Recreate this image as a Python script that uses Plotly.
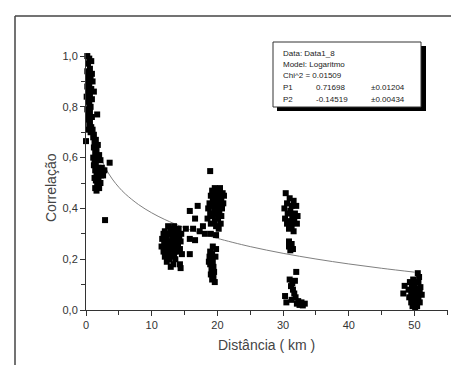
import plotly.graph_objects as go
import math

# ---------------- data ----------------
xA = [0.2, 0.5, 0.8, 0.3, 0.6, 0.2, 0.9, 0.4, 0.7, 0.3, 1.0, 0.5, 0.2, 0.8, 0.4, 1.2, 0.6, 0.1,
      0.9, 0.3, 0.5, 0.7, 0.2, 0.6, 0.4, 0.9, 0.3, 0.6, 0.5, 0.8, 0.4, 0.7, 1.0, 1.2, 1.7, 0.0,
      1.1, 1.5, 1.3, 1.8, 1.2, 1.6, 1.4, 2.0, 1.1, 1.7, 1.3, 2.2, 1.5, 3.6, 1.2, 1.9, 2.4, 1.4,
      2.1, 2.8, 1.6, 2.3, 1.3, 1.9, 2.6, 1.5, 2.2, 1.7, 1.4, 2.0, 1.6, 2.9]
yA = [1.00, 0.99, 0.98, 0.97, 0.95, 0.94, 0.93, 0.92, 0.91, 0.90, 0.90, 0.89, 0.88, 0.87, 0.86, 0.86,
      0.85, 0.84, 0.83, 0.82, 0.81, 0.80, 0.79, 0.78, 0.77, 0.76, 0.75, 0.74, 0.73, 0.72, 0.71, 0.70,
      0.71, 0.69, 0.77, 0.665,
      0.68, 0.67, 0.66, 0.65, 0.64, 0.63, 0.62, 0.61, 0.60, 0.60, 0.59, 0.59, 0.58, 0.58, 0.57, 0.56,
      0.56, 0.55, 0.55, 0.55, 0.54, 0.53, 0.52, 0.52, 0.53, 0.51, 0.50, 0.49, 0.48, 0.48, 0.47, 0.354]

xB = [12.5, 13.4, 14.1, 12.0, 13.0, 13.8, 14.5, 11.8, 12.7, 13.5, 14.2, 12.2, 11.6, 13.1, 13.9,
      12.6, 14.4, 11.9, 13.4, 12.3, 14.0, 11.5, 12.9, 13.7, 12.1, 14.3, 13.2, 11.8, 12.6, 13.9,
      12.4, 13.4, 14.6, 12.0, 13.0, 12.7, 13.6, 12.3, 13.3, 14.3, 12.9, 15.8, 14.4,
      12.9, 13.7, 12.2, 13.1, 14.0, 12.5, 13.5]
yB = [0.33, 0.33, 0.32, 0.31, 0.31, 0.31, 0.30, 0.30, 0.30, 0.29, 0.29, 0.29, 0.28, 0.28, 0.28,
      0.27, 0.27, 0.27, 0.26, 0.26, 0.26, 0.25, 0.25, 0.25, 0.24, 0.24, 0.24, 0.23, 0.23, 0.23,
      0.22, 0.22, 0.22, 0.21, 0.21, 0.20, 0.20, 0.19, 0.18, 0.18, 0.17, 0.22, 0.165,
      0.32, 0.27, 0.28, 0.26, 0.24, 0.21, 0.23]

xC = [19.6, 20.4, 19.2, 20.0, 20.8, 19.5, 20.3, 19.0, 21.0, 19.8, 20.6, 19.3, 20.1, 20.9, 18.8,
      19.7, 20.4, 19.1, 20.0, 20.7, 18.6, 19.5, 20.3, 18.9, 19.9, 20.6, 19.3, 18.5, 20.1, 19.6,
      20.5, 19.0, 19.8, 20.2, 18.9,
      15.8, 17.0, 16.6, 15.2, 16.3, 15.8, 16.6, 17.3, 17.8, 18.1, 19.0, 19.8,
      20.0, 19.4, 20.5, 19.8]
yC = [0.48, 0.48, 0.47, 0.47, 0.46, 0.46, 0.45, 0.45, 0.45, 0.44, 0.44, 0.43, 0.43, 0.42, 0.42,
      0.42, 0.41, 0.41, 0.40, 0.40, 0.40, 0.39, 0.39, 0.38, 0.38, 0.37, 0.37, 0.36, 0.36, 0.35,
      0.34, 0.34, 0.33, 0.32, 0.547,
      0.39, 0.41, 0.36, 0.32, 0.32, 0.28, 0.275, 0.31, 0.33, 0.30, 0.30, 0.295,
      0.45, 0.44, 0.43, 0.41]

xD = [19.3, 19.8, 18.9, 19.2, 18.8, 19.7, 19.0, 18.7, 19.3, 18.9, 19.4, 19.1, 19.5, 19.0, 19.4, 19.2, 19.6]
yD = [0.25, 0.24, 0.23, 0.22, 0.21, 0.21, 0.20, 0.19, 0.19, 0.18, 0.17, 0.16, 0.15, 0.14, 0.13, 0.12, 0.11]

xE = [30.4, 31.0, 31.6, 30.6, 31.3, 32.0, 30.2, 31.1, 31.8, 30.7, 31.4, 32.2, 30.3, 31.0, 31.7,
      30.6, 32.1, 31.3, 30.9, 31.6, 30.9, 31.3, 30.9, 31.5, 31.1]
yE = [0.46, 0.44, 0.43, 0.42, 0.41, 0.41, 0.40, 0.39, 0.38, 0.38, 0.37, 0.37, 0.36, 0.35, 0.35,
      0.34, 0.34, 0.33, 0.32, 0.31, 0.27, 0.26, 0.25, 0.24, 0.235]

xF = [32.0, 31.0, 31.8, 31.4, 31.2, 31.5, 31.7, 30.3, 31.9, 30.5, 32.3, 32.8, 33.3, 32.5, 33.0, 31.3, 32.1]
yF = [0.15, 0.12, 0.115, 0.105, 0.094, 0.08, 0.065, 0.055, 0.05, 0.03, 0.035, 0.03, 0.025, 0.02, 0.018, 0.04, 0.025]

xG = [50.5, 50.7, 49.8, 50.6, 49.3, 48.5, 50.0, 50.9, 49.6, 50.3, 49.1, 50.8, 49.9, 48.3, 50.4,
      49.5, 51.1, 50.1, 49.2, 50.6, 49.8, 50.3, 49.5, 50.8, 50.0, 49.7, 50.4, 50.1]
yG = [0.145, 0.13, 0.12, 0.11, 0.11, 0.095, 0.10, 0.09, 0.09, 0.085, 0.08, 0.075, 0.07, 0.065, 0.065,
      0.06, 0.06, 0.055, 0.05, 0.045, 0.04, 0.035, 0.03, 0.03, 0.025, 0.015, 0.015, 0.008]

# fit model (Logaritmo): y = P1 + P2*ln(x)
P1 = 0.71698
P2 = -0.14519
fit_x = [0.5, 0.75, 1, 1.5, 2, 3, 4, 5, 6, 8, 10, 12, 15, 18, 20, 25, 30, 35, 40, 45, 50]

x_ticks = [0, 10, 20, 30, 40, 50]
y_ticks = [0.0, 0.2, 0.4, 0.6, 0.8, 1.0]

info_lines = ["Data: Data1_8", "Model: Logaritmo", "Chi^2 = 0.01509"]
param_names = ["P1", "P2"]
param_values = ["0.71698", "-0.14519"]
param_errors = ["\u00b10.01204", "\u00b10.00434"]

# ---------------- figure ----------------
W, H = 459, 365
L, R, T, B = 78, 19, 45, 63
pw, ph = W - L - R, H - T - B

def px(x):
    return (x - L) / pw

def py(y):
    return (H - B - y) / ph

xs = xA + xB + xC + xD + xE + xF + xG
ys = yA + yB + yC + yD + yE + yF + yG

fig = go.Figure()
fig.add_trace(go.Scatter(
    x=fit_x, y=[P1 + P2 * math.log(v) for v in fit_x], mode="lines",
    line=dict(color="#808080", width=1), line_shape="spline", hoverinfo="skip"))
fig.add_trace(go.Scatter(
    x=xs, y=ys, mode="markers", cliponaxis=False,
    marker=dict(symbol="square", size=6, color="black", line=dict(width=0))))

font_family = "Liberation Sans, Arial, sans-serif"
axis_common = dict(showline=True, linecolor="#333333", linewidth=1, ticks="outside",
                   ticklen=5, tickcolor="#333333", showgrid=False, zeroline=False,
                   tickfont=dict(family=font_family, size=11, color="#333333"))

fig.update_layout(
    width=W, height=H, margin=dict(l=L, r=R, t=T, b=B),
    paper_bgcolor="white", plot_bgcolor="white", showlegend=False,
    separators=",.",
    xaxis=dict(range=[0, 55.1], tickvals=x_ticks, ticktext=[str(v) for v in x_ticks],
               minor=dict(dtick=5, ticks="outside", ticklen=4, tickcolor="#333333"),
               **axis_common),
    yaxis=dict(range=[0, 1.012], tickvals=y_ticks, tickformat=".1f",
               minor=dict(dtick=0.1, ticks="outside", ticklen=4, tickcolor="#333333"),
               **axis_common),
)

ann = []
ann.append(dict(text="Correla\u00e7\u00e3o", xref="paper", yref="paper", x=px(43), y=py(180),
                textangle=-90, showarrow=False, xanchor="center", yanchor="middle",
                font=dict(family=font_family, size=14, color="#444444")))
ann.append(dict(text="Dist\u00e2ncia ( km )", xref="paper", yref="paper", x=px(258), y=py(337),
                showarrow=False, xanchor="center", yanchor="middle",
                font=dict(family=font_family, size=14, color="#444444")))

box_font = dict(family=font_family, size=8, color="#222222")
line_ys = [45, 56.7, 67.7, 79.3, 91]
for i, t in enumerate(info_lines):
    ann.append(dict(text=t, xref="paper", yref="paper", x=px(273), y=py(line_ys[i]),
                    showarrow=False, xanchor="left", yanchor="middle", font=box_font))
for j in range(2):
    yy = py(line_ys[3 + j])
    ann.append(dict(text=param_names[j], xref="paper", yref="paper", x=px(273), y=yy,
                    showarrow=False, xanchor="left", yanchor="middle", font=box_font))
    ann.append(dict(text=param_values[j], xref="paper", yref="paper", x=px(306), y=yy,
                    showarrow=False, xanchor="left", yanchor="middle", font=box_font))
    ann.append(dict(text=param_errors[j], xref="paper", yref="paper", x=px(361), y=yy,
                    showarrow=False, xanchor="left", yanchor="middle", font=box_font))
fig.update_layout(annotations=ann)

shapes = [
    dict(type="rect", xref="paper", yref="paper", x0=px(269), x1=px(418), y0=py(103), y1=py(38),
         fillcolor="black", line=dict(width=0), layer="above"),
    dict(type="rect", xref="paper", yref="paper", x0=px(265), x1=px(413), y0=py(99), y1=py(34),
         fillcolor="white", line=dict(color="#333333", width=1), layer="above"),
    dict(type="line", xref="paper", yref="paper", x0=px(7), x1=px(7), y0=py(8), y1=py(366),
         line=dict(color="#444444", width=1.5)),
    dict(type="line", xref="paper", yref="paper", x0=px(7), x1=px(460), y0=py(8), y1=py(8),
         line=dict(color="#444444", width=1.5)),
]
fig.update_layout(shapes=shapes)

fig.write_html("out.html")
